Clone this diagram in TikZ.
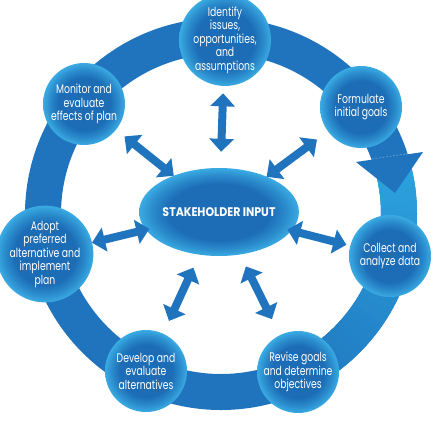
\documentclass[tikz,border=0pt]{standalone}
\usepackage{fontspec}
\setmainfont{Poppins}[FakeStretch=0.74]
\newfontfamily\hubfont{Poppins}[FakeStretch=0.88]
\usetikzlibrary{arrows.meta,calc,shapes.geometric}
\definecolor{ringblue}{HTML}{1F74BD}
\definecolor{ringlight}{HTML}{2CA3DE}
\definecolor{balldark}{HTML}{1C6DB6}
\definecolor{balllight}{HTML}{3AABE3}
\colorlet{ballmid}{balldark!50!balllight}
\pgfdeclareradialshading{ballshade}{\pgfpoint{0bp}{0bp}}{color(0bp)=(balldark); color(16bp)=(balldark); color(21bp)=(ballmid); color(25bp)=(balllight); color(50bp)=(balllight)}
\tikzset{
  stepnode/.style={circle, minimum size=82pt, inner sep=0pt, shading=ballshade,
    text=white, align=center, font=\fontsize{12.5}{13.5}\selectfont},
  hubnode/.style={ellipse, minimum width=133pt, minimum height=88pt, inner sep=0pt,
    shading=ballshade, text=white, font=\hubfont\bfseries\fontsize{12.5}{13}\selectfont},
  dblarrow/.style={draw=ringblue, line width=8pt,
    {Triangle[width=24pt,length=13pt]}-{Triangle[width=24pt,length=13pt]}},
  ringband/.style={line width=36pt},
}
\begin{document}
\begin{tikzpicture}[x=1pt,y=-1pt]
\useasboundingbox (0,0) rectangle (435,423);
\clip (0,0) rectangle (435,423);
\coordinate (rc) at (221,214);
% ring
\draw[ringband, ringblue] (rc) circle[radius=178pt];
\foreach \a in {18,16,...,-70}{
  \pgfmathtruncatemacro{\t}{(18-\a)/88*100}
  \draw[ringband, draw=ringblue!\t!ringlight] ($(rc)+(\a:178pt)$) arc[start angle=\a, end angle=\a-2.6, radius=178pt];
}
% arrowhead on the ring
\fill[ringblue] (356,162) -- (423,152) -- (395,193) -- cycle;
\draw[white, opacity=0.35, line width=0.6pt, dash pattern=on 2pt off 1.5pt] (372,159) -- (411,153);
% nodes
\node[hubnode] (hub) at (219,212) {STAKEHOLDER INPUT};
\node[stepnode] (identify) at (225,40) {Identify\\issues,\\opportunities,\\and\\assumptions};
\node[stepnode] (formulate) at (361,107) {Formulate\\initial goals};
\node[stepnode] (collect) at (390,256) {Collect and\\analyze data};
\node[stepnode] (revise) at (298,372) {Revise goals\\and determine\\objectives};
\node[stepnode] (develop) at (146,371) {Develop and\\evaluate\\alternatives};
\node[stepnode] (adopt) at (45,254) {Adopt\\preferred\\alternative and\\implement\\plan};
\node[stepnode] (monitor) at (84,104) {Monitor and\\evaluate\\effects of plan};
% connectors
\draw[dblarrow] ($(hub)!0.35!(identify)$) -- ($(hub)!0.69!(identify)$);
\draw[dblarrow] ($(hub)!0.335!(formulate)$) -- ($(hub)!0.69!(formulate)$);
\draw[dblarrow] ($(hub)!0.40!(collect)$) -- ($(hub)!0.745!(collect)$);
\draw[dblarrow] ($(hub)!0.34!(revise)$) -- ($(hub)!0.67!(revise)$);
\draw[dblarrow] ($(hub)!0.35!(develop)$) -- ($(hub)!0.685!(develop)$);
\draw[dblarrow] ($(hub)!0.40!(adopt)$) -- ($(hub)!0.73!(adopt)$);
\draw[dblarrow] ($(hub)!0.335!(monitor)$) -- ($(hub)!0.70!(monitor)$);
\end{tikzpicture}
\end{document}
